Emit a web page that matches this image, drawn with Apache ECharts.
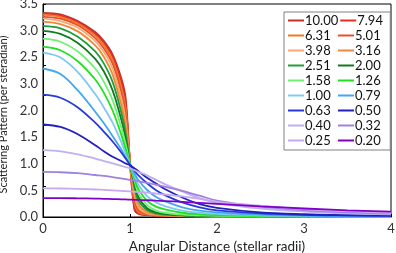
<!DOCTYPE html>
<html><head><meta charset="utf-8">
<script src="https://cdn.jsdelivr.net/npm/echarts@6/dist/echarts.min.js"></script>
<style>html,body{margin:0;padding:0;background:#fff}#c{width:396px;height:253px}</style>
</head><body><div id="c"></div>
<script>
const xs = [0, 0.2, 0.4, 0.6, 0.7, 0.8, 0.9, 0.95, 1.0, 1.05, 1.1, 1.2, 1.3, 1.4, 1.6, 1.8, 2.0, 2.5, 3.0, 3.5, 4.0];
const names = ['10.00','7.94','6.31','5.01','3.98','3.16','2.51','2.00','1.58','1.26','1.00','0.79','0.63','0.50','0.40','0.32','0.25','0.20'];
const colors = ['#c0302a','#e0302a','#f07828','#e8502a','#f8a870','#f08838','#1e9e3a','#107a20','#70f070','#20e020','#80c8f0','#40a8f0','#2838e0','#2020c0','#c0b0f0','#a080e0','#c8a8f0','#8000c8'];
const s1000 = [3.355,3.33,3.22,3.04,2.89,2.67,2.28,1.95,0.90,0.13,0.05,0.03,0.02,0.015,0.01,0.008,0.006,0.004,0.003,0.002,0.002];
const s794 = [3.34,3.31,3.20,3.01,2.86,2.63,2.22,1.87,0.90,0.18,0.06,0.035,0.025,0.018,0.012,0.009,0.007,0.005,0.004,0.003,0.002];
const s631 = [3.32,3.29,3.18,2.98,2.82,2.58,2.14,1.78,0.90,0.24,0.08,0.04,0.028,0.02,0.014,0.01,0.008,0.005,0.004,0.003,0.002];
const s501 = [3.29,3.26,3.15,2.94,2.77,2.52,2.05,1.68,0.90,0.30,0.11,0.05,0.032,0.024,0.016,0.012,0.009,0.006,0.004,0.003,0.003];
const s398 = [3.26,3.22,3.11,2.89,2.71,2.44,1.95,1.58,0.89,0.37,0.15,0.06,0.038,0.028,0.018,0.013,0.01,0.007,0.005,0.004,0.003];
const s316 = [3.21,3.17,3.05,2.82,2.63,2.34,1.84,1.48,0.89,0.44,0.20,0.08,0.045,0.032,0.02,0.015,0.012,0.008,0.005,0.004,0.003];
const s251 = [3.14,3.10,2.96,2.72,2.52,2.22,1.72,1.38,0.88,0.50,0.26,0.11,0.06,0.04,0.025,0.018,0.014,0.009,0.006,0.005,0.004];
const s200 = [3.06,3.01,2.86,2.60,2.39,2.08,1.60,1.28,0.88,0.55,0.32,0.14,0.075,0.05,0.03,0.021,0.016,0.01,0.007,0.005,0.004];
const s158 = [2.93,2.88,2.72,2.44,2.22,1.92,1.47,1.20,0.87,0.60,0.38,0.19,0.105,0.07,0.04,0.027,0.02,0.012,0.008,0.006,0.005];
const s126 = [2.80,2.74,2.56,2.26,2.04,1.75,1.35,1.11,0.86,0.64,0.45,0.26,0.17,0.125,0.07,0.045,0.033,0.018,0.012,0.009,0.007];
const s100 = [2.70,2.62,2.38,2.02,1.80,1.55,1.23,1.04,0.86,0.68,0.52,0.34,0.24,0.18,0.105,0.07,0.05,0.027,0.017,0.011,0.008];
const s079 = [2.44,2.35,2.08,1.73,1.54,1.33,1.11,0.98,0.85,0.72,0.60,0.44,0.33,0.26,0.16,0.105,0.075,0.04,0.025,0.017,0.012];
const s063 = [2.01,1.96,1.80,1.55,1.40,1.24,1.06,0.96,0.86,0.76,0.68,0.55,0.44,0.36,0.24,0.16,0.11,0.06,0.035,0.025,0.018];
const s050 = [1.52,1.48,1.36,1.18,1.08,0.99,0.92,0.88,0.85,0.80,0.75,0.64,0.55,0.46,0.32,0.21,0.15,0.075,0.045,0.03,0.022];
const s040 = [1.10,1.08,1.03,0.96,0.92,0.88,0.84,0.82,0.80,0.77,0.74,0.68,0.61,0.54,0.42,0.31,0.23,0.14,0.09,0.06,0.045];
const s032 = [0.74,0.735,0.72,0.69,0.675,0.655,0.635,0.622,0.61,0.60,0.585,0.56,0.53,0.50,0.43,0.35,0.27,0.17,0.11,0.075,0.055];
const s025 = [0.47,0.468,0.462,0.452,0.446,0.438,0.43,0.425,0.42,0.415,0.41,0.40,0.385,0.37,0.34,0.30,0.25,0.185,0.13,0.095,0.07];
const s020 = [0.31,0.31,0.307,0.302,0.299,0.295,0.29,0.288,0.285,0.283,0.28,0.275,0.268,0.262,0.248,0.232,0.215,0.175,0.14,0.11,0.088];
const seriesValues = [s1000,s794,s631,s501,s398,s316,s251,s200,s158,s126,s100,s079,s063,s050,s040,s032,s025,s020];
const yTickLabels = ['0.0','0.5','1.0','1.5','2.0','3.0','2.5','3.0','3.5'];
const xTickLabels = ['0','1','2','3','4'];

const FONT = 'Lato';
const chart = echarts.init(document.getElementById('c'), null, {renderer:'canvas'});
chart.setOption({
  animation: false,
  textStyle: {fontFamily: FONT},
  grid: {left: 43, right: 5, top: 4, bottom: 36, show: true, borderColor: '#000', borderWidth: 1, containLabel: false, outerBoundsMode: 'none'},
  legend: {
    left: 284, top: 12, width: 106,
    orient: 'horizontal',
    padding: [2, 2, 3, 4],
    itemGap: 2,
    itemWidth: 16, itemHeight: 2,
    icon: 'rect',
    backgroundColor: '#fff',
    borderColor: '#808080', borderWidth: 1,
    data: names,
    textStyle: {fontFamily: FONT, fontSize: 13, color: '#111', width: 31, height: 11.4, lineHeight: 11.4, padding: [0,0,0,-4]}
  },
  xAxis: {
    type: 'value', min: 0, max: 4, interval: 1,
    name: 'Angular Distance (stellar radii)', nameLocation: 'middle', nameGap: 20,
    nameTextStyle: {fontFamily: FONT, fontSize: 13.5, color: '#222'},
    axisLine: {lineStyle: {color: '#000', width: 1}},
    axisTick: {inside: true, length: 3, lineStyle: {color: '#000'}},
    axisLabel: {fontFamily: FONT, fontSize: 13, color: '#333', margin: 5, formatter: v => xTickLabels[Math.round(v)]},
    splitLine: {show: false}
  },
  yAxis: [{
    type: 'value', min: 0, max: 3.5, interval: 0.5,
    axisLine: {show: true, lineStyle: {color: '#000', width: 1}},
    axisTick: {show: true, inside: true, length: 3, lineStyle: {color: '#000'}},
    axisLabel: {show: false},
    splitLine: {show: false}
  }, {
    type: 'value', min: 0, max: 8, interval: 1, position: 'left',
    name: 'Scattering Pattern (per steradian)', nameLocation: 'middle', nameGap: 30,
    nameTextStyle: {fontFamily: FONT, fontSize: 11, color: '#222', padding: [0, 8, 0, 0]},
    axisLine: {show: false}, axisTick: {show: false},
    axisLabel: {fontFamily: FONT, fontSize: 13, color: '#333', margin: 5, formatter: v => yTickLabels[Math.round(v)]},
    splitLine: {show: false}
  }],
  series: names.map((n, i) => ({
    name: n, type: 'line', yAxisIndex: 0, smooth: 0.35, symbol: 'none',
    lineStyle: {color: colors[i], width: 1.8},
    itemStyle: {color: colors[i]},
    data: xs.map((x, j) => [x, seriesValues[i][j]])
  }))
});
</script></body></html>
